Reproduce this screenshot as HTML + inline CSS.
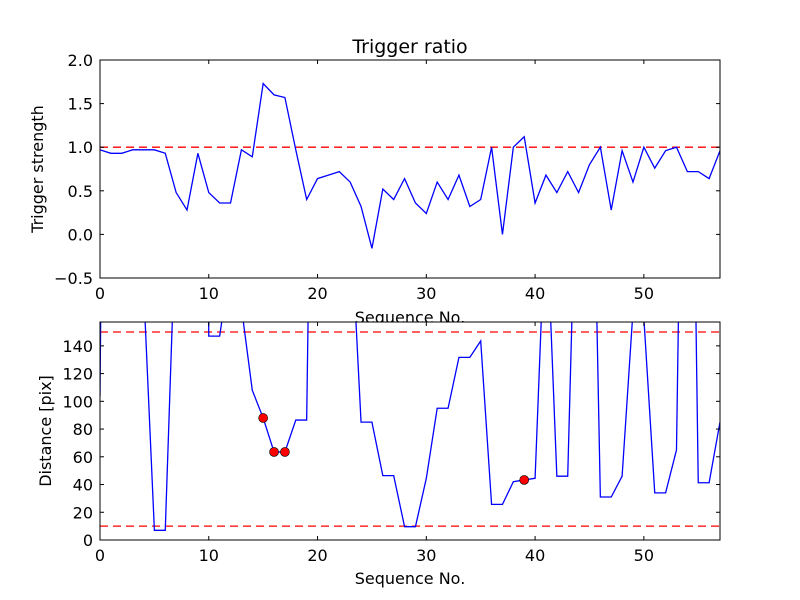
<!DOCTYPE html>
<html><head><meta charset="utf-8"><style>
body{margin:0;background:#fff}
svg{display:block;font-family:"DejaVu Sans","Liberation Sans",sans-serif}
</style></head><body>
<svg id="fig" width="800" height="600" viewBox="0 0 800 600">
<rect width="800" height="600" fill="#fff"/>
<g id="top"></g>
<g id="bot"></g>
</svg>
<script>
const seqTop = [0.97,0.93,0.93,0.97,0.97,0.97,0.93,0.48,0.28,0.93,0.48,0.36,0.36,0.97,0.89,1.73,1.6,1.57,0.97,0.4,0.64,0.68,0.72,0.6,0.32,-0.16,0.52,0.4,0.64,0.36,0.24,0.6,0.4,0.68,0.32,0.4,1.0,0.0,1.0,1.12,0.36,0.68,0.48,0.72,0.48,0.8,1.0,0.28,0.96,0.6,1.0,0.76,0.96,1.0,0.72,0.72,0.64,0.96];
const distance = [104,1000,1000,1000,184,7,7,240,1000,1000,147,147,200,168,108,88,63.5,63.5,86.5,86.5,650,500,500,239,85,85,46.4,46.4,9.6,9.6,44.5,95,95,131.7,131.7,143.5,25.7,25.7,42,43.3,44.5,245,46,46,340,430,31,31,46,165,160,34,34,65,600,41.3,41.3,85];
const markerIdx = [15,16,17,39];
const xTicks = [0,10,20,30,40,50];
const yTicksTop = [-0.5,0.0,0.5,1.0,1.5,2.0];
const yTicksBot = [0,20,40,60,80,100,120,140];
const refTop = [1.0];
const refBot = [10,150];

const NS="http://www.w3.org/2000/svg";
function mk(tag,attrs,parent){const e=document.createElementNS(NS,tag);for(const k in attrs)e.setAttribute(k,attrs[k]);parent.appendChild(e);return e;}
const X0=100,X1=720,XMAX=57;
const sx=v=>X0+(X1-X0)*v/XMAX;

function axes(g,y0,y1,ymin,ymax,yTicks,fmt,series,refs,ylabel,name,ylx){
  const sy=v=>y1-(y1-y0)*(v-ymin)/(ymax-ymin);
  const bg=mk('rect',{x:X0,y:y0,width:X1-X0,height:y1-y0,fill:'#fff'},g);
  
  
  const cid='clip'+name;
  const cp=mk('clipPath',{id:cid},g);mk('rect',{x:X0,y:y0,width:X1-X0,height:y1-y0},cp);
  const inner=mk('g',{'clip-path':'url(#'+cid+')'},g);
  refs.forEach(r=>{
    const l=mk('line',{x1:X0,x2:X1,y1:sy(r),y2:sy(r),stroke:'#ff0000','stroke-width':1.3,'stroke-dasharray':'8,5'},inner);
    
    
  });
  const pts=series.map((v,i)=>sx(i).toFixed(2)+','+sy(v).toFixed(2)).join(' ');
  const pl=mk('polyline',{points:pts,fill:'none',stroke:'#0000ff','stroke-width':1.3},inner);
  
  
  const fr=mk('rect',{x:X0,y:y0,width:X1-X0,height:y1-y0,fill:'none',stroke:'#000','stroke-width':1},g);
  
  
  xTicks.forEach(t=>{
    const x=sx(t);
    mk('line',{x1:x,x2:x,y1:y1,y2:y1-4,stroke:'#000'},g);
    mk('line',{x1:x,x2:x,y1:y0,y2:y0+4,stroke:'#000'},g);
    const tx=mk('text',{x:x,y:y1+21,'text-anchor':'middle','font-size':16},g);tx.textContent=t;
    
    
  });
  yTicks.forEach(t=>{
    const y=sy(t);
    mk('line',{x1:X0,x2:X0+4,y1:y,y2:y,stroke:'#000'},g);
    mk('line',{x1:X1,x2:X1-4,y1:y,y2:y,stroke:'#000'},g);
    const tx=mk('text',{x:X0-7,y:y+6,'text-anchor':'end','font-size':16},g);tx.textContent=fmt(t);
    
    
  });
  const yl=mk('text',{x:0,y:0,'text-anchor':'middle','font-size':16,transform:'translate('+ylx+','+((y0+y1)/2)+') rotate(-90)'},g);
  yl.textContent=ylabel;
  
  
  return sy;
}
const gt=document.getElementById('top'), gb=document.getElementById('bot');
const title=mk('text',{x:410,y:53,'text-anchor':'middle','font-size':19},gt);title.textContent='Trigger ratio';


axes(gt,60,278,-0.5,2.0,yTicksTop,t=>(t<0?'\u2212':'')+Math.abs(t).toFixed(1),seqTop,refTop,'Trigger strength','top',43);
const xl1=mk('text',{x:410,y:323,'text-anchor':'middle','font-size':16},gt);xl1.textContent='Sequence No.';


const syb=axes(gb,322,540,0,157.2,yTicksBot,t=>String(t),distance,refBot,'Distance [pix]','bottom',51);
markerIdx.forEach(i=>{
  const c=mk('circle',{cx:sx(i),cy:syb(distance[i]),r:4.5,fill:'#ff0000',stroke:'#000','stroke-width':0.6},gb);
  
  
});
const xl2=mk('text',{x:410,y:584,'text-anchor':'middle','font-size':16},gb);xl2.textContent='Sequence No.';


</script>
</body></html>
